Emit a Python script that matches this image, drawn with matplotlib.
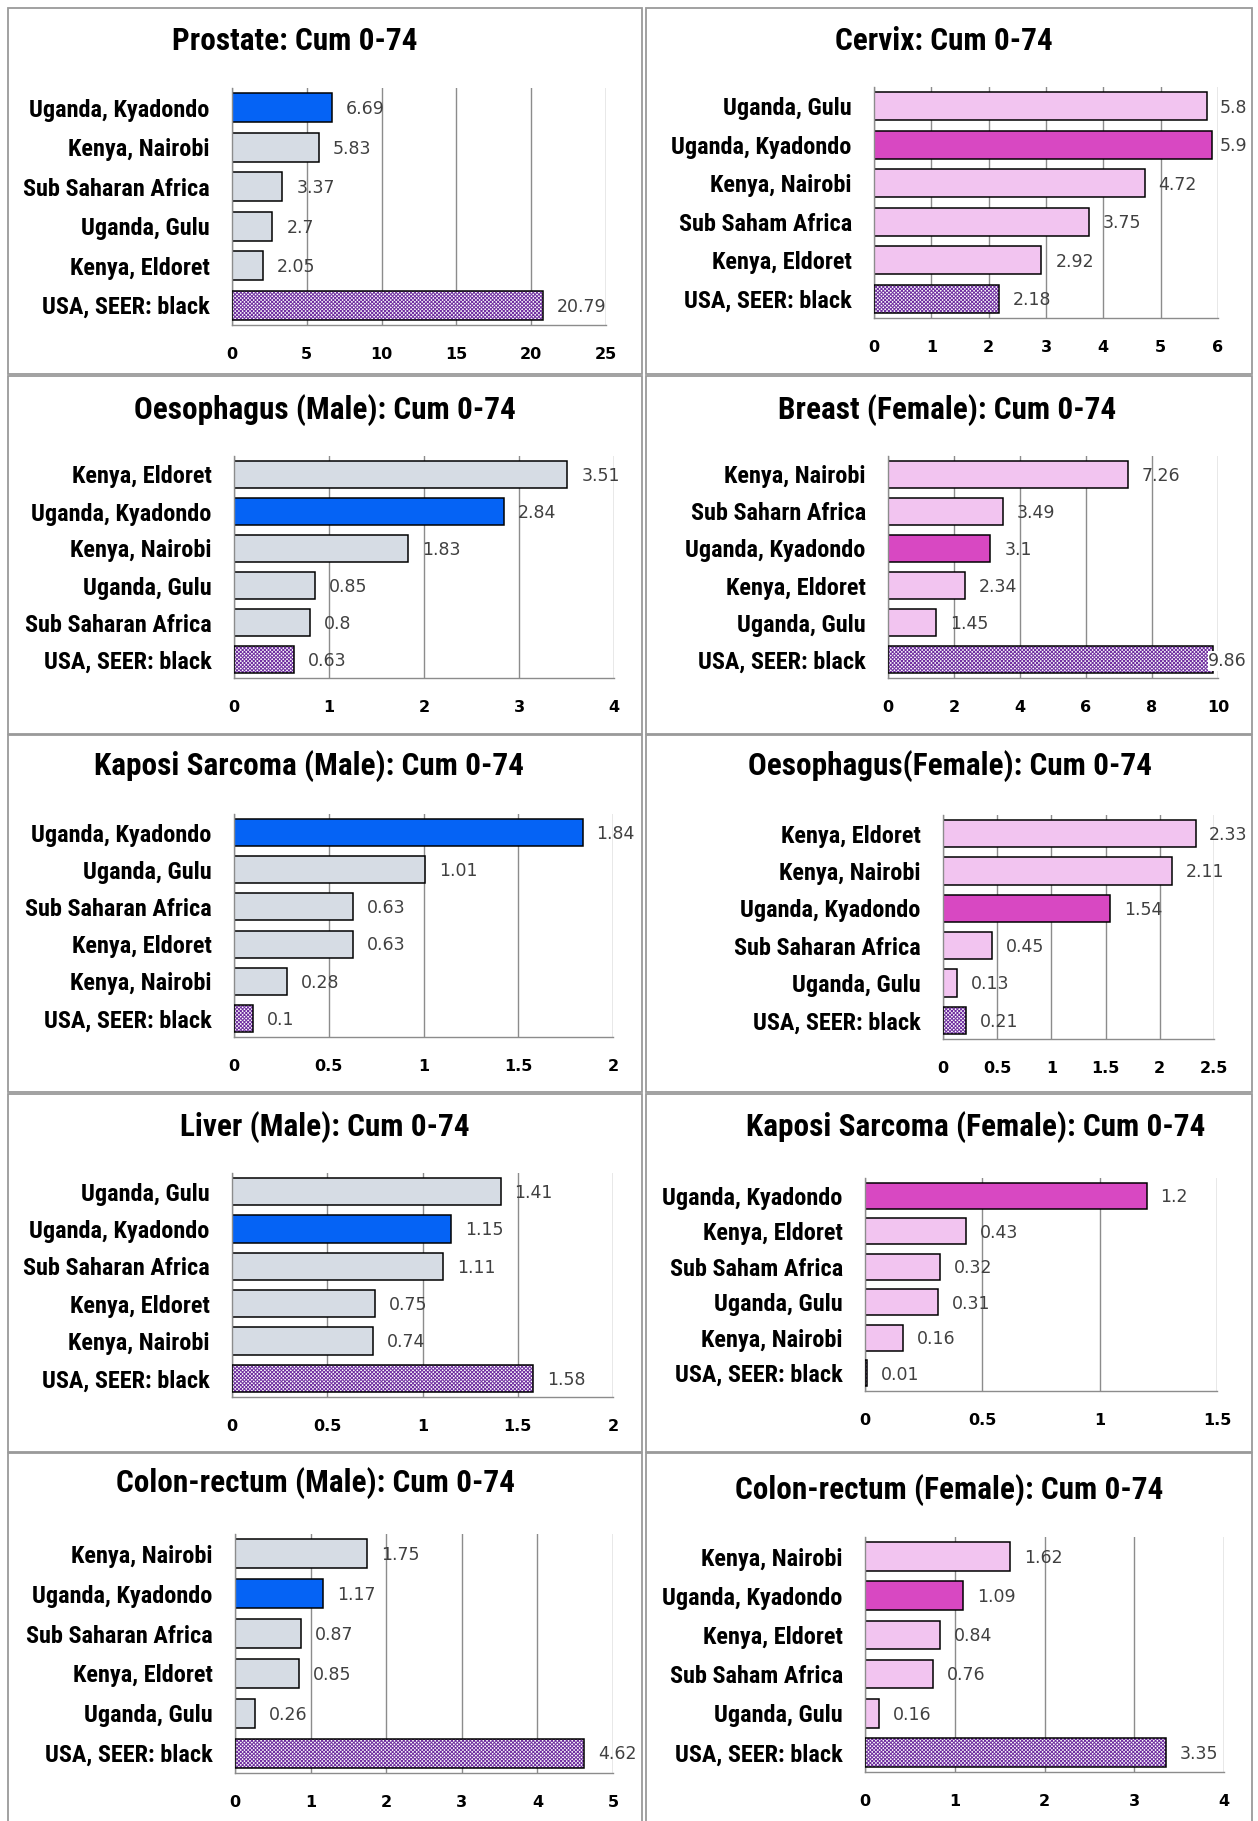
import numpy as np
import matplotlib
matplotlib.use("Agg")
import matplotlib.pyplot as plt
from matplotlib import font_manager as fm
from matplotlib.patches import Rectangle

# ---------------- data: cumulative risk 0-74 (%) ----------------
prostate_sites = ["Uganda, Kyadondo", "Kenya, Nairobi", "Sub Saharan Africa",
                  "Uganda, Gulu", "Kenya, Eldoret", "USA, SEER: black"]
prostate_cum = [6.69, 5.83, 3.37, 2.7, 2.05, 20.79]

cervix_sites = ["Uganda, Gulu", "Uganda, Kyadondo", "Kenya, Nairobi",
                "Sub Saham Africa", "Kenya, Eldoret", "USA, SEER: black"]
cervix_cum = [5.8, 5.9, 4.72, 3.75, 2.92, 2.18]

oes_m_sites = ["Kenya, Eldoret", "Uganda, Kyadondo", "Kenya, Nairobi",
               "Uganda, Gulu", "Sub Saharan Africa", "USA, SEER: black"]
oes_m_cum = [3.51, 2.84, 1.83, 0.85, 0.8, 0.63]

breast_sites = ["Kenya, Nairobi", "Sub Saharn Africa", "Uganda, Kyadondo",
                "Kenya, Eldoret", "Uganda, Gulu", "USA, SEER: black"]
breast_cum = [7.26, 3.49, 3.1, 2.34, 1.45, 9.86]

ks_m_sites = ["Uganda, Kyadondo", "Uganda, Gulu", "Sub Saharan Africa",
              "Kenya, Eldoret", "Kenya, Nairobi", "USA, SEER: black"]
ks_m_cum = [1.84, 1.01, 0.63, 0.63, 0.28, 0.1]

oes_f_sites = ["Kenya, Eldoret", "Kenya, Nairobi", "Uganda, Kyadondo",
               "Sub Saharan Africa", "Uganda, Gulu", "USA, SEER: black"]
oes_f_cum = [2.33, 2.11, 1.54, 0.45, 0.13, 0.21]

liver_m_sites = ["Uganda, Gulu", "Uganda, Kyadondo", "Sub Saharan Africa",
                 "Kenya, Eldoret", "Kenya, Nairobi", "USA, SEER: black"]
liver_m_cum = [1.41, 1.15, 1.11, 0.75, 0.74, 1.58]

ks_f_sites = ["Uganda, Kyadondo", "Kenya, Eldoret", "Sub Saham Africa",
              "Uganda, Gulu", "Kenya, Nairobi", "USA, SEER: black"]
ks_f_cum = [1.2, 0.43, 0.32, 0.31, 0.16, 0.01]

crc_m_sites = ["Kenya, Nairobi", "Uganda, Kyadondo", "Sub Saharan Africa",
               "Kenya, Eldoret", "Uganda, Gulu", "USA, SEER: black"]
crc_m_cum = [1.75, 1.17, 0.87, 0.85, 0.26, 4.62]

crc_f_sites = ["Kenya, Nairobi", "Uganda, Kyadondo", "Kenya, Eldoret",
               "Sub Saham Africa", "Uganda, Gulu", "USA, SEER: black"]
crc_f_cum = [1.62, 1.09, 0.84, 0.76, 0.16, 3.35]

titles = ["Prostate: Cum 0-74", "Cervix: Cum 0-74",
          "Oesophagus (Male): Cum 0-74", "Breast (Female): Cum 0-74",
          "Kaposi Sarcoma (Male): Cum 0-74", "Oesophagus(Female): Cum 0-74",
          "Liver (Male): Cum 0-74", "Kaposi Sarcoma (Female): Cum 0-74",
          "Colon-rectum (Male): Cum 0-74", "Colon-rectum (Female): Cum 0-74"]
sites = [prostate_sites, cervix_sites, oes_m_sites, breast_sites, ks_m_sites,
         oes_f_sites, liver_m_sites, ks_f_sites, crc_m_sites, crc_f_sites]
values = [prostate_cum, cervix_cum, oes_m_cum, breast_cum, ks_m_cum,
          oes_f_cum, liver_m_cum, ks_f_cum, crc_m_cum, crc_f_cum]
x_max = [25, 6, 4, 10, 2, 2.5, 2, 1.5, 5, 4]
x_step = [5, 1, 1, 2, 0.5, 0.5, 0.5, 0.5, 1, 1]
sex = ["M", "F", "M", "F", "M", "F", "M", "F", "M", "F"]

# ---------------- layout (pixels) ----------------
W, H = 1258, 1821
# plot areas: left, right, top, bottom
plot_px = [(232, 606, 88, 325), (874, 1218, 87, 318),
           (234, 614, 456, 678), (888, 1218, 456, 678),
           (234, 613, 814, 1037), (943, 1214, 815, 1039),
           (232, 613, 1173, 1397), (865, 1217, 1178, 1391),
           (235, 613, 1534, 1773), (865, 1224, 1537, 1772)]
title_px = [(295, 41), (944, 41), (325, 410), (947, 410), (309, 766),
            (950, 766), (325, 1127), (976, 1127), (316, 1483), (949, 1490)]
col_x = [(8, 642), (646, 1252)]
row_y = [(8, 374), (376, 734), (735, 1092), (1094, 1452), (1453, 1840)]

GRID = "#8c8c8c"
BOX = "#9a9a9a"
LABEL_C = "#404040"
PURPLE = "#7030A0"
FILL = {"M": ("#D6DCE4", "#0563F5"), "F": ("#F2C4F0", "#D848C2")}

names = {f.name for f in fm.fontManager.ttflist}
narrow = next((n for n in ["Liberation Sans Narrow", "Roboto Condensed",
                           "Arial Narrow"] if n in names), None)
scale = 1.0
if narrow is None:
    narrow = "Liberation Sans"
    scale = 0.82

plt.rcParams["hatch.linewidth"] = 0.7

fig = plt.figure(figsize=(W / 100, H / 100), dpi=100)
fig.patch.set_facecolor("white")

# panel frames
for r, (y0, y1) in enumerate(row_y):
    for c, (x0, x1) in enumerate(col_x):
        fig.add_artist(Rectangle((x0 / W, 1 - y1 / H), (x1 - x0) / W,
                                 (y1 - y0) / H, transform=fig.transFigure,
                                 fill=False, ec=BOX, lw=1.3))

annotations = []
for k in range(10):
    L, R, T, B = plot_px[k]
    ax = fig.add_axes([L / W, 1 - B / H, (R - L) / W, (B - T) / H])
    labels, vals = sites[k], values[k]
    n = len(vals)
    base, hi = FILL[sex[k]]
    ypos = np.arange(n)
    for i, (lab, v) in enumerate(zip(labels, vals)):
        if lab.startswith("USA"):
            ax.barh(i, v, height=0.73, color="white", edgecolor=PURPLE,
                    hatch="x" * 9, lw=0, zorder=2)
            ax.barh(i, v, height=0.73, fill=False, edgecolor="black",
                    lw=1.1, zorder=3)
        else:
            col = hi if "Kyadondo" in lab else base
            ax.barh(i, v, height=0.73, color=col, edgecolor="black",
                    lw=1.1, zorder=2)
        a = ax.annotate(f"{v:g}", xy=(v, i), xytext=(10, -1),
                        textcoords="offset points", ha="left", va="center",
                        fontsize=12.5, color=LABEL_C, family="DejaVu Sans",
                        zorder=4, annotation_clip=False)
        annotations.append((a, col_x[k % 2][1] - 5))

    ax.set_xlim(0, x_max[k])
    ax.set_ylim(n - 0.5, -0.5)
    ticks = np.arange(0, x_max[k] + x_step[k] / 2, x_step[k])
    ax.set_xticks(ticks)
    ax.set_xticklabels([f"{t:g}" for t in ticks], fontsize=11.5,
                       fontweight="bold", family="DejaVu Sans")
    ax.set_yticks(ypos)
    ax.set_yticklabels(labels, fontsize=17.5 * scale, fontweight="semibold",
                       family=narrow)
    ax.tick_params(axis="x", length=0, pad=16)
    ax.tick_params(axis="y", length=0, pad=16)
    ax.grid(axis="x", color=GRID, lw=1.0, zorder=0)
    ax.set_axisbelow(True)
    for s in ("top", "right"):
        ax.spines[s].set_visible(False)
    for s in ("left", "bottom"):
        ax.spines[s].set_color(GRID)
        ax.spines[s].set_linewidth(1.0)
    ax.patch.set_alpha(0)

    cx, cy = title_px[k]
    fig.text(cx / W, 1 - cy / H, titles[k], ha="center", va="center",
             fontsize=22.5 * scale, fontweight="semibold", family=narrow)

# keep value labels inside their panel frame; a label pushed back over
# its own bar gets a white backing so it stays legible
fig.canvas.draw()
for a, limit in annotations:
    bb = a.get_window_extent()
    if bb.x1 > limit:
        shift_pt = (bb.x1 - limit) * 72 / fig.dpi
        a.xyann = (10 - shift_pt, -1)
        if shift_pt > 8:
            a.set_bbox(dict(facecolor="white", edgecolor="none", pad=0.5))

fig.savefig("out.png", dpi=100, facecolor="white")
